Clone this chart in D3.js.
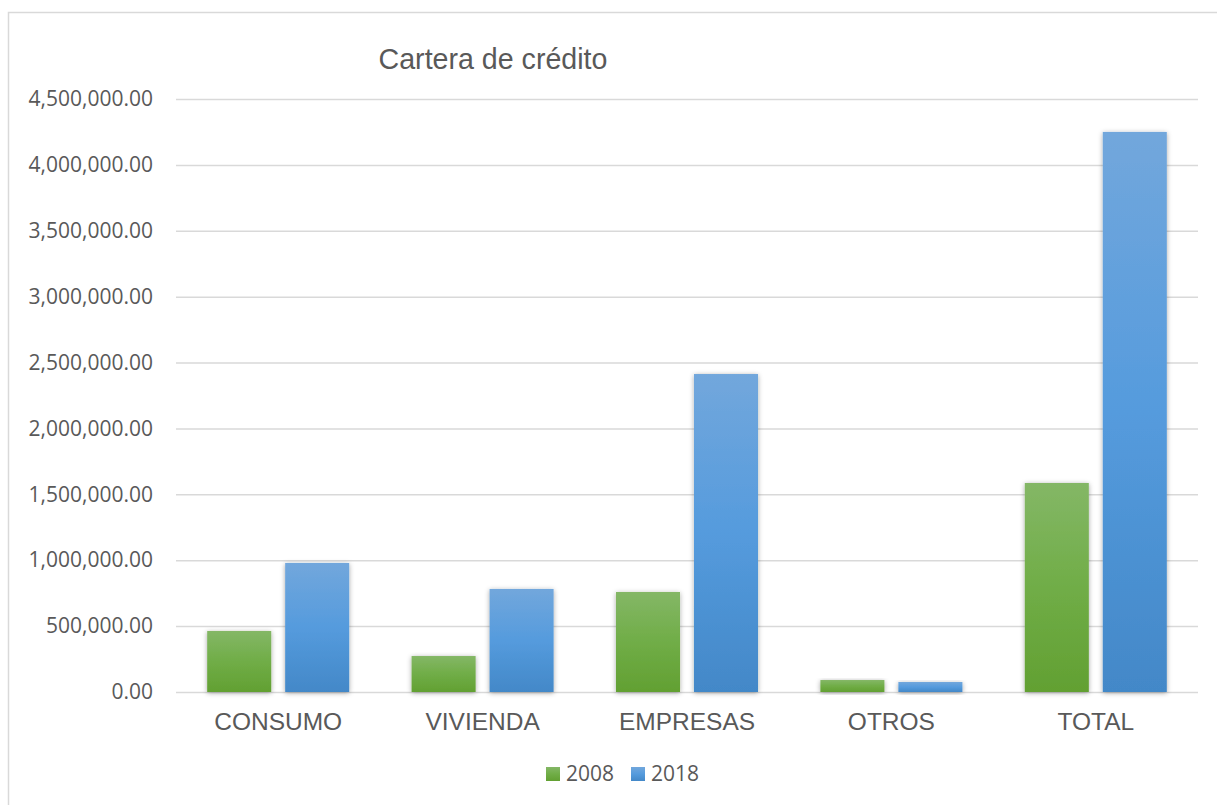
<!DOCTYPE html>
<html>
<head>
<meta charset="utf-8">
<script src="https://cdn.jsdelivr.net/npm/d3@7/dist/d3.min.js"></script>
<style>
  html, body { margin: 0; padding: 0; background: #fff; }
  svg { display: block; }
</style>
</head>
<body>
<svg id="chart" width="1217" height="805"></svg>
<script>
const categories = ["CONSUMO", "VIVIENDA", "EMPRESAS", "OTROS", "TOTAL"];
const seriesNames = ["2008", "2018"];
const values2008 = [463000, 273000, 759000, 91000, 1586000];
const values2018 = [979000, 782000, 2413000, 76000, 4250000];
const yTicks = [0, 500000, 1000000, 1500000, 2000000, 2500000, 3000000, 3500000, 4000000, 4500000];
const titleText = "Cartera de crédito";

const seriesValues = { "2008": values2008, "2018": values2018 };
const data = categories.map((c, i) => ({ cat: c, vals: seriesNames.map(s => ({ s, v: seriesValues[s][i] })) }));

const svg = d3.select("#chart");
const W = 1217, H = 805;
const plot = { left: 176, right: 1198, top: 99, bottom: 692 };

// Outer chart border
svg.append("rect").attr("x", 8.5).attr("y", 12.5).attr("width", W + 20).attr("height", H + 20)
  .attr("fill", "#fff").attr("stroke", "#d9d9d9").attr("stroke-width", 1.5);

const defs = svg.append("defs");
const gradG = defs.append("linearGradient").attr("id", "gGreen").attr("x1", 0).attr("y1", 0).attr("x2", 0).attr("y2", 1);
gradG.append("stop").attr("offset", "0%").attr("stop-color", "#84b766");
gradG.append("stop").attr("offset", "50%").attr("stop-color", "#70ad47");
gradG.append("stop").attr("offset", "100%").attr("stop-color", "#62a032");
const gradB = defs.append("linearGradient").attr("id", "gBlue").attr("x1", 0).attr("y1", 0).attr("x2", 0).attr("y2", 1);
gradB.append("stop").attr("offset", "0%").attr("stop-color", "#72a7dc");
gradB.append("stop").attr("offset", "50%").attr("stop-color", "#559bdd");
gradB.append("stop").attr("offset", "100%").attr("stop-color", "#4388c8");
const shadow = defs.append("filter").attr("id", "shadow").attr("x", "-30%").attr("y", "-10%").attr("width", "160%").attr("height", "130%");
shadow.append("feDropShadow").attr("dx", 0).attr("dy", 1).attr("stdDeviation", 2.5)
  .attr("flood-color", "#000").attr("flood-opacity", 0.35);

const colorFill = { "2008": "url(#gGreen)", "2018": "url(#gBlue)" };

const y = d3.scaleLinear().domain([0, 4500000]).range([plot.bottom, plot.top]);
const x0 = d3.scaleBand().domain(categories).range([plot.left, plot.right]).paddingInner(0).paddingOuter(0);
const x1 = d3.scaleBand().domain(seriesNames).range([0, x0.bandwidth()]).paddingInner(0.179).paddingOuter(0.40);

// Gridlines
const fmt = d3.format(",.2f");
const yAxis = d3.axisLeft(y).tickValues(yTicks).tickSize(-(plot.right - plot.left)).tickPadding(23).tickFormat(fmt);
const gy = svg.append("g").attr("transform", `translate(${plot.left},0)`).call(yAxis);
gy.select(".domain").remove();
gy.selectAll(".tick line").attr("stroke", "#d9d9d9").attr("stroke-width", 1.5);
gy.selectAll(".tick text").attr("fill", "#595959").style("font-family", "'Open Sans', sans-serif").style("font-size", "21px");

// Bars
const groups = svg.append("g").selectAll("g").data(data).join("g")
  .attr("transform", d => `translate(${x0(d.cat)},0)`);
groups.selectAll("rect").data(d => d.vals).join("rect")
  .attr("x", d => x1(d.s))
  .attr("width", x1.bandwidth())
  .attr("y", d => y(d.v))
  .attr("height", d => y(0) - y(d.v))
  .attr("fill", d => colorFill[d.s])
  .attr("filter", "url(#shadow)");

// X axis labels
const xAxis = d3.axisBottom(x0).tickSize(0).tickPadding(21);
const gx = svg.append("g").attr("transform", `translate(0,${plot.bottom})`).call(xAxis);
gx.select(".domain").remove();
gx.selectAll(".tick text").attr("fill", "#595959").style("font-family", "'Liberation Sans', Arial, sans-serif").style("font-size", "24.5px");

// Title
svg.append("text").attr("x", 493).attr("y", 69).attr("text-anchor", "middle")
  .attr("fill", "#595959").style("font-family", "'Liberation Sans', Arial, sans-serif").style("font-size", "28.6px")
  .text(titleText);

// Legend
const legendX = { "2008": 546, "2018": 631 };
const lg = svg.append("g").selectAll("g").data(seriesNames).join("g")
  .attr("transform", d => `translate(${legendX[d]},767)`);
lg.append("rect").attr("width", 14).attr("height", 14).attr("fill", d => colorFill[d]);
lg.append("text").attr("x", 20).attr("y", 14).attr("fill", "#595959")
  .style("font-family", "'Open Sans', sans-serif").style("font-size", "21px").text(d => d);
</script>
</body>
</html>
